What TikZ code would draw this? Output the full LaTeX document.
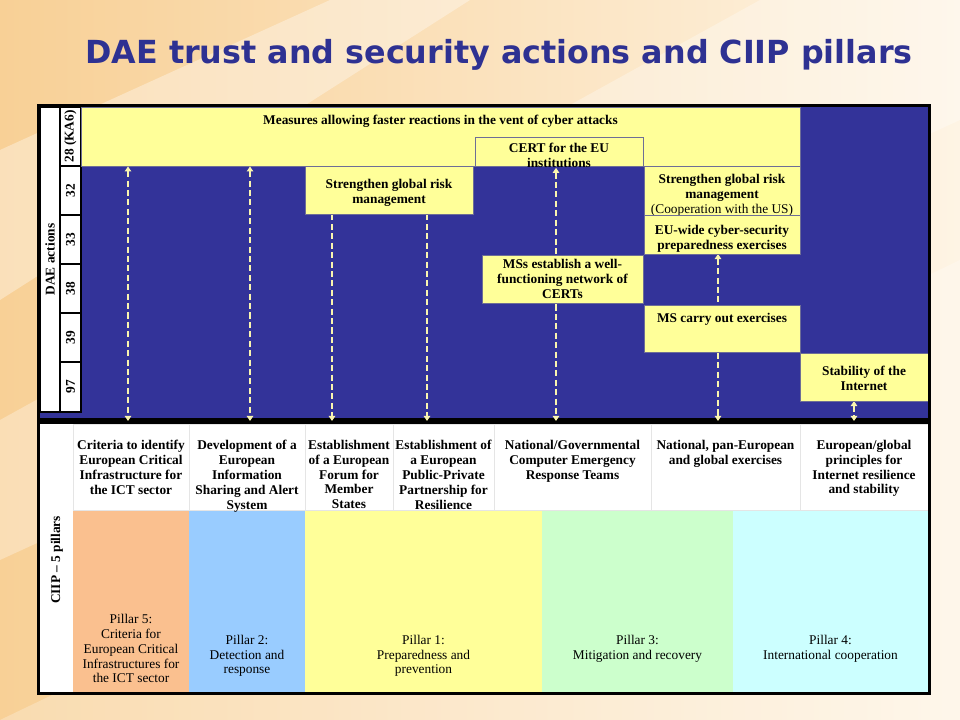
\documentclass[tikz,border=0pt]{standalone}
\usepackage{fontspec}
\setmainfont{Liberation Serif}
\newfontfamily\titlefont{DejaVu Sans}
\usetikzlibrary{arrows.meta,positioning,fit,calc}

\definecolor{dblue}{RGB}{51,51,153}
\definecolor{ylw}{RGB}{255,255,153}
\definecolor{boxline}{RGB}{110,110,150}
\definecolor{arrowc}{RGB}{250,245,175}
\definecolor{titleblue}{RGB}{46,49,146}
\definecolor{peach}{RGB}{250,192,143}
\definecolor{skyb}{RGB}{153,204,255}
\definecolor{lyel}{RGB}{255,255,153}
\definecolor{lgreen}{RGB}{204,255,204}
\definecolor{lcyan}{RGB}{204,255,255}
\definecolor{bgA}{RGB}{248,208,150}
\definecolor{bgB}{RGB}{254,244,228}

\begin{document}
\begin{tikzpicture}[
    x=0.025cm, y=-0.025cm,
    font=\fontsize{9.5}{10.6}\selectfont,
    ybox/.style={draw=boxline, line width=0.6pt, fill=ylw, inner sep=0pt},
    btxt/.style={align=center, inner sep=0pt, font=\fontsize{9.5}{10.6}\selectfont\bfseries},
    numc/.style={draw=black, line width=0.8pt, fill=white, inner sep=0pt},
    rot/.style={rotate=90, inner sep=0pt, font=\fontsize{9.5}{10.6}\selectfont\bfseries},
    hcell/.style={draw=black!10, fill=white, inner sep=0pt},
    htxt/.style={anchor=north, align=center, inner sep=0pt, font=\fontsize{9.5}{10.6}\selectfont\bfseries},
    pillar/.style={inner sep=0pt},
    ptxt/.style={anchor=north, align=center, inner sep=0pt},
    dl/.style={draw=arrowc, line width=1.4pt, dash pattern=on 4.3pt off 2.4pt,
      {Triangle[width=4.6pt,length=3.6pt]}-{Triangle[width=4.6pt,length=3.6pt]}},
    dd/.style={dl, -{Triangle[width=4.6pt,length=3.6pt]}}
]
\useasboundingbox (0,0) rectangle (960,720);

% background
\shade[left color=bgA, right color=bgB] (0,0) rectangle (960,720);
\fill[white, opacity=0.35] (0,150) -- (330,0) -- (470,0) -- (0,300) -- cycle;
\fill[white, opacity=0.3] (0,420) -- (760,0) -- (960,0) -- (960,120) -- (0,560) -- cycle;
\fill[white, opacity=0.25] (0,720) -- (960,260) -- (960,720) -- cycle;

% title
\node[text=titleblue, font=\titlefont\bfseries\fontsize{22.6}{26}\selectfont] (title) at (499,55) {DAE trust and security actions and CIIP pillars};

% DAE actions part
\fill[dblue] (40,107) rectangle (928,418);
\node[numc, fit={(40,107) (60,412)}] (dae) {};
\node[rot] at (dae.center) {DAE actions};
\node[numc, fit={(60,107) (81,166)}] (n28) {};
\node[rot] at (n28.center) {28 (KA6)};
\node[numc, fit={(60,166) (81,215)}] (n32) {};
\node[rot] at (n32.center) {32};
\node[numc, fit={(60,215) (81,264)}] (n33) {};
\node[rot] at (n33.center) {33};
\node[numc, fit={(60,264) (81,313)}] (n38) {};
\node[rot] at (n38.center) {38};
\node[numc, fit={(60,313) (81,362)}] (n39) {};
\node[rot] at (n39.center) {39};
\node[numc, fit={(60,362) (81,412)}] (n97) {};
\node[rot] at (n97.center) {97};

\node[ybox, fit={(81,107) (800,166)}] (measures) {};
\node[btxt, anchor=north] at ([yshift=-0.2cm]measures.north) {Measures allowing faster reactions in the vent of cyber attacks};
\node[ybox, fit={(475,137) (643,166)}] (cert) {};
\node[btxt] at ([yshift=-0.1cm]cert.center) {CERT for the EU\\institutions};
\node[fill=black, inner sep=0pt, fit={(37,418) (931,424)}] (band) {};

% connectors
\draw[dl] (128,0 |- measures.south) -- (128,0 |- band.center);
\draw[dl] (250,0 |- measures.south) -- (250,0 |- band.center);
\draw[dd] (332,0 |- measures.south) ++(0,48) -- (332,0 |- band.center);
\draw[dd] (427,0 |- measures.south) ++(0,48) -- (427,0 |- band.center);
\draw[dl, shorten <=1pt] (556,0 |- cert.south) -- (556,0 |- band.center);
\draw[dl] (718,254) -- (718,0 |- band.center);
\draw[dl] (854,401) -- (854,0 |- band.center);

\node[ybox, fit={(305,166) (473,214)}] (risk) {};
\node[btxt] at ([yshift=-0.08cm]risk.center) {Strengthen global risk\\management};
\node[ybox, fit={(644,166) (800,215)}] (riskus) {};
\node[btxt] at ([yshift=-0.12cm]riskus.center) {Strengthen global risk\\management\\{\mdseries(Cooperation with the US)}};
\node[ybox, fit={(644,215) (800,254)}] (euwide) {};
\node[btxt] at ([yshift=-0.1cm]euwide.center) {EU-wide cyber-security\\preparedness exercises};
\node[ybox, fit={(482,255) (643,303)}] (msnet) {};
\node[btxt] at (msnet.center) {MSs establish a well-\\functioning network of\\CERTs};
\node[ybox, fit={(644,305) (800,352)}] (msex) {};
\node[btxt, anchor=north] at ([yshift=-0.2cm]msex.north) {MS carry out exercises};
\node[ybox, fit={(800,353) (928,401)}] (stab) {};
\node[btxt] at ([yshift=-0.04cm]stab.center) {Stability of the\\Internet};

% CIIP part
\node[numc, draw=none, fit={(40,424) (73,692)}] (ciip) {};
\node[rot] at (57,560) {CIIP -- 5 pillars};

\node[pillar, fill=peach, fit={(73,510) (189,692)}] (p5) {};
\node[pillar, fill=skyb, fit={(189,510) (305,692)}] (p2) {};
\node[pillar, fill=lyel, fit={(305,510) (542,692)}] (p1) {};
\node[pillar, fill=lgreen, fit={(542,510) (733,692)}] (p3) {};
\node[pillar, fill=lcyan, fit={(733,510) (928,692)}] (p4) {};
\node[ptxt, below=2.6cm of p5.north] {Pillar 5:\\Criteria for\\European Critical\\Infrastructures for\\the ICT sector};
\node[ptxt, below=3.12cm of p2.north] {Pillar 2:\\Detection and\\response};
\node[ptxt, below=3.12cm of p1.north] {Pillar 1:\\Preparedness and\\prevention};
\node[ptxt, below=3.12cm of p3.north] {Pillar 3:\\Mitigation and recovery};
\node[ptxt, below=3.12cm of p4.north] {Pillar 4:\\International cooperation};

\node[hcell, fit={(73,424) (189,510)}] (crit) {};
\node[hcell, fit={(189,424) (305,510)}] (dev) {};
\node[hcell, fit={(305,424) (393,510)}] (forum) {};
\node[hcell, fit={(393,424) (494,510)}] (ppp) {};
\node[hcell, fit={(494,424) (651,510)}] (certs) {};
\node[hcell, fit={(651,424) (800,510)}] (natex) {};
\node[hcell, fit={(800,424) (928,510)}] (princ) {};
\node[htxt, below=0.4cm of crit.north] {Criteria to identify\\European Critical\\Infrastructure for\\the ICT sector};
\node[htxt, below=0.4cm of dev.north] {Development of a\\European\\Information\\Sharing and Alert\\System};
\node[htxt, below=0.4cm of forum.north] {Establishment\\of a European\\Forum for\\Member\\States};
\node[htxt, below=0.4cm of ppp.north] {Establishment of\\a European\\Public-Private\\Partnership for\\Resilience};
\node[htxt, below=0.4cm of certs.north] {National/Governmental\\Computer Emergency\\Response Teams};
\node[htxt, below=0.4cm of natex.north] {National, pan-European\\and global exercises};
\node[htxt, below=0.4cm of princ.north] {European/global\\principles for\\Internet resilience\\and stability};

% frame
\draw[line width=2.2pt] (38.5,105.5) rectangle (929.5,693.5);
\end{tikzpicture}
\end{document}
